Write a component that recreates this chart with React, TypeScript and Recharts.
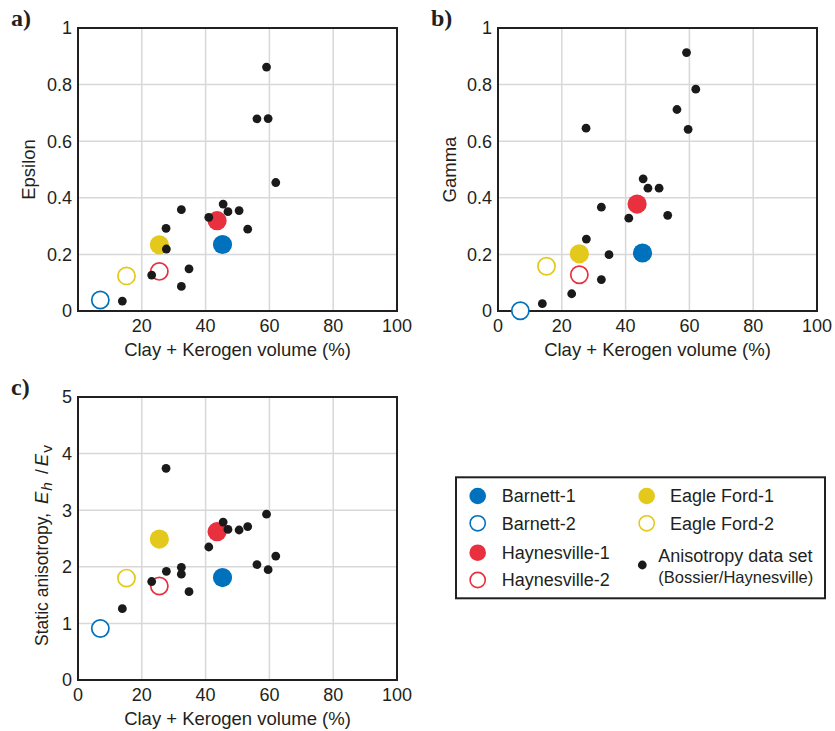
import { CartesianGrid, ReferenceArea, Scatter, ScatterChart, XAxis, YAxis } from "recharts";

// Bossier/Haynesville anisotropy data set, clay + kerogen volume (%)
const clayKerogen = [13.9, 23.1, 27.6, 27.7, 32.4, 32.4, 34.8, 41.0, 45.5, 47.0, 50.5, 53.2, 56.1, 59.1, 59.6, 62.0];
const epsilonSet = [0.035, 0.127, 0.292, 0.219, 0.358, 0.087, 0.149, 0.331, 0.378, 0.351, 0.355, 0.289, 0.679, 0.862, 0.68, 0.454];
const gammaSet = [0.026, 0.061, 0.646, 0.254, 0.367, 0.111, 0.199, 0.328, 0.467, 0.434, 0.434, 0.338, 0.712, 0.913, 0.642, 0.784];
const staticSet = [1.26, 1.74, 3.74, 1.92, 1.99, 1.87, 1.56, 2.35, 2.79, 2.66, 2.65, 2.71, 2.04, 2.93, 1.95, 2.19];

// named samples
const sampleNames = ["Barnett-1", "Barnett-2", "Haynesville-1", "Haynesville-2", "Eagle Ford-1", "Eagle Ford-2"];
const sampleClay = [45.3, 7.0, 43.6, 25.5, 25.5, 15.2];
const sampleEpsilon = [0.235, 0.039, 0.319, 0.14, 0.234, 0.124];
const sampleGamma = [0.205, 0.001, 0.378, 0.128, 0.202, 0.158];
const sampleStatic = [1.81, 0.91, 2.62, 1.66, 2.49, 1.8];

const xTicks = [0, 20, 40, 60, 80, 100];
const unitTicks = [0, 0.2, 0.4, 0.6, 0.8, 1];
const staticTicks = [0, 1, 2, 3, 4, 5];

const FONT = '"Liberation Sans", Arial, Helvetica, sans-serif';
const INK = "#231f20";
const BLUE = "#0071bc";
const RED = "#e8303f";
const YELLOW = "#e3c91c";

const sampleStyle: Record<string, { color: string; filled: boolean }> = {
  "Barnett-1": { color: BLUE, filled: true },
  "Barnett-2": { color: BLUE, filled: false },
  "Haynesville-1": { color: RED, filled: true },
  "Haynesville-2": { color: RED, filled: false },
  "Eagle Ford-1": { color: YELLOW, filled: true },
  "Eagle Ford-2": { color: YELLOW, filled: false },
};

const blackDot = (p: any) => <circle cx={p.cx} cy={p.cy} r={4.4} fill="#1a1a1a" />;
const sampleDot = (name: string) => (p: any) => {
  const s = sampleStyle[name];
  return s.filled ? (
    <circle cx={p.cx} cy={p.cy} r={9.6} fill={s.color} />
  ) : (
    <circle cx={p.cx} cy={p.cy} r={8.6} fill="#fff" stroke={s.color} strokeWidth={1.7} />
  );
};

type PanelProps = {
  letter: string;
  left: number;
  top: number;
  values: number[];
  samples: number[];
  yTicks: number[];
  yLabel: React.ReactNode;
  yLabelX: number;
  yLabelShift?: number;
  yLabelSize?: number;
  hideXZero?: boolean;
};

function Panel({ letter, left, top, values, samples, yTicks, yLabel, yLabelX, yLabelShift = 0, yLabelSize = 18.5, hideXZero }: PanelProps) {
  const yMax = yTicks[yTicks.length - 1];
  const data = clayKerogen.map((x, i) => ({ x, y: values[i] }));
  return (
    <div style={{ position: "absolute", left, top, width: 420, height: 370 }}>
      <div
        style={{
          position: "absolute",
          left: 11,
          top: 3,
          fontFamily: '"Liberation Serif", "Times New Roman", serif',
          fontWeight: "bold",
          fontSize: 24,
          color: INK,
          lineHeight: "30px",
        }}
      >
        {letter}
      </div>
      <ScatterChart width={420} height={370} margin={{ top: 28, right: 23, bottom: 9, left: 0 }}>
        <CartesianGrid stroke="#d8d8d8" strokeWidth={1.5} />
        <XAxis
          dataKey="x"
          type="number"
          domain={[0, 100]}
          ticks={xTicks}
          tickFormatter={(v: number) => (hideXZero && v === 0 ? "" : String(v))}
          height={50}
          axisLine={false}
          tickLine={false}
          tickSize={0}
          tickMargin={8}
          tick={{ fill: INK, fontSize: 18, fontFamily: FONT }}
          label={{
            content: (p: any) => (
              <text
                x={p.viewBox.x + p.viewBox.width / 2}
                y={p.viewBox.y + 45}
                textAnchor="middle"
                fill={INK}
                fontSize={18.5}
                fontFamily={FONT}
              >
                Clay + Kerogen volume (%)
              </text>
            ),
          }}
        />
        <YAxis
          dataKey="y"
          type="number"
          domain={[0, yMax]}
          ticks={yTicks}
          width={78}
          axisLine={false}
          tickLine={false}
          tickSize={0}
          tickMargin={6}
          tick={{ fill: INK, fontSize: 18, fontFamily: FONT }}
          label={{
            content: (p: any) => {
              const cy = p.viewBox.y + p.viewBox.height / 2 + yLabelShift;
              return (
                <text
                  x={yLabelX}
                  y={cy}
                  transform={`rotate(-90, ${yLabelX}, ${cy})`}
                  textAnchor="middle"
                  fill={INK}
                  fontSize={yLabelSize}
                  fontFamily={FONT}
                >
                  {yLabel}
                </text>
              );
            },
          }}
        />
        <ReferenceArea x1={0} x2={100} y1={0} y2={yMax} fill="none" stroke={INK} strokeWidth={2} />
        {sampleNames.map((name, i) => (
          <Scatter
            key={name}
            name={name}
            data={[{ x: sampleClay[i], y: samples[i] }]}
            shape={sampleDot(name)}
            isAnimationActive={false}
          />
        ))}
        <Scatter name="Anisotropy data set" data={data} shape={blackDot} isAnimationActive={false} />
      </ScatterChart>
    </div>
  );
}

function LegendBox() {
  const col1 = sampleNames.filter((n) => n.startsWith("Barnett") || n.startsWith("Haynesville"));
  const col2 = sampleNames.filter((n) => n.startsWith("Eagle"));
  const rows = [26, 53.3, 82.7, 110];
  const marker = (name: string, cx: number, cy: number) => {
    const s = sampleStyle[name];
    return s.filled ? (
      <circle cx={cx} cy={cy} r={8.3} fill={s.color} />
    ) : (
      <circle cx={cx} cy={cy} r={7.6} fill="#fff" stroke={s.color} strokeWidth={1.6} />
    );
  };
  return (
    <svg width={395} height={140} style={{ position: "absolute", left: 440, top: 470 }} fontFamily={FONT}>
      <rect x={16} y={7.3} width={369} height={121} fill="none" stroke={INK} strokeWidth={2} />
      {col1.map((name, i) => (
        <g key={name}>
          {marker(name, 37.7, rows[i])}
          <text x={61.7} y={rows[i] + 6.4} fontSize={18} fill={INK}>
            {name}
          </text>
        </g>
      ))}
      {col2.map((name, i) => (
        <g key={name}>
          {marker(name, 206.7, rows[i])}
          <text x={230} y={rows[i] + 6.4} fontSize={18} fill={INK}>
            {name}
          </text>
        </g>
      ))}
      <circle cx={202.3} cy={95} r={4.4} fill="#1a1a1a" />
      <text x={218.3} y={91.5} fontSize={18} fill={INK}>
        Anisotropy data set
      </text>
      <text x={218.3} y={113} fontSize={16.5} fill={INK}>
        (Bossier/Haynesville)
      </text>
    </svg>
  );
}

export default function App() {
  return (
    <div style={{ position: "absolute", left: 0, top: 0, width: 835, height: 731, background: "#fff" }}>
      <Panel letter="a)" left={0} top={0} values={epsilonSet} samples={sampleEpsilon} yTicks={unitTicks} yLabel="Epsilon" yLabelX={35} hideXZero />
      <Panel letter="b)" left={420} top={0} values={gammaSet} samples={sampleGamma} yTicks={unitTicks} yLabel="Gamma" yLabelX={36} />
      <Panel
        letter="c)"
        left={0}
        top={369}
        values={staticSet}
        samples={sampleStatic}
        yTicks={staticTicks}
        yLabelX={48}
        yLabelShift={7}
        yLabelSize={17.5}
        yLabel={
          <>
            <tspan>Static anisotropy,</tspan>
            <tspan fontStyle="italic" fontSize={18.5} dx={9}>E</tspan>
            <tspan fontStyle="italic" fontSize={15.5} dx={1} dy={4}>h</tspan>
            <tspan dx={8} dy={-4}>/</tspan>
            <tspan fontStyle="italic" fontSize={18.5} dx={3}>E</tspan>
            <tspan fontSize={15.5} dx={1} dy={4}>v</tspan>
          </>
        }
      />
      <LegendBox />
    </div>
  );
}
